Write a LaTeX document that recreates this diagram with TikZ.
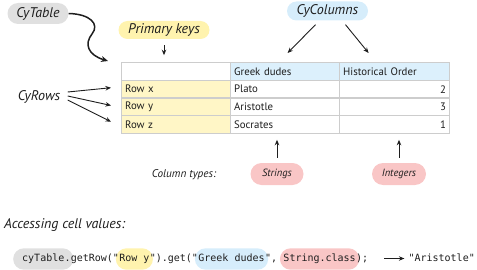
\documentclass[tikz,border=0pt]{standalone}
\usepackage{fontspec}
\setmainfont{PT Sans}
\setmonofont{DejaVu Sans Mono}
\usetikzlibrary{shapes.misc, fit, backgrounds, arrows.meta}
\definecolor{cygray}{HTML}{E0E0E0}
\definecolor{pkyellow}{HTML}{FFF3AE}
\definecolor{keyyellow}{HTML}{FFF6C6}
\definecolor{cyblue}{HTML}{D6EDFB}
\definecolor{hdblue}{HTML}{DCF0FC}
\definecolor{typered}{HTML}{F9C6C6}
\definecolor{gridgray}{HTML}{CDCDCD}
\definecolor{ink}{HTML}{1E1E1E}
\tikzset{
  pill/.style={rounded rectangle, fill=#1, text=ink, inner sep=0pt},
  tag/.style={text=ink, font=\fontsize{14}{16}\selectfont\itshape},
  smalltag/.style={text=ink, font=\fontsize{11.2}{13}\selectfont\itshape},
  cell/.style={rectangle, draw=gridgray, line width=1.2pt, fill=#1, text=ink,
               minimum height=17.75pt, text width=103pt, inner xsep=3.5pt, inner ysep=0pt,
               anchor=north west, align=left, font=\fontsize{10.8}{12}\selectfont},
  code/.style={font=\ttfamily\fontsize{10}{12}\selectfont, text=ink, inner sep=0pt,
               anchor=base west, text height=7.5pt, text depth=2.5pt},
  codepill/.style={rounded rectangle, fill=#1, inner ysep=5.5pt, inner xsep=2pt},
  arr/.style={-{Stealth[length=5.5pt, width=4.5pt]}, line width=0.9pt, draw=ink},
  bigarr/.style={-{Stealth[length=7pt, width=6pt]}, line width=1.5pt, draw=ink},
}
\begin{document}
\begin{tikzpicture}[x=1pt, y=-1pt]
  \useasboundingbox (0,0) rectangle (477,270);
  % labels round the table
  \node[pill=cygray, tag, minimum width=61pt, minimum height=21pt] (cytable) at (38,13.5) {CyTable};
  \node[pill=pkyellow, tag, minimum width=91pt, minimum height=18pt] (pk) at (164,30) {Primary keys};
  \node[pill=cyblue, tag, minimum width=81pt, minimum height=19pt] (cycol) at (327.5,11) {CyColumns};
  \node[tag] (cyrows) at (39,97) {CyRows};

  % the table
  \node[cell=white] (corner) at (121,62) {};
  \node[cell=hdblue] (colG) at (230,62) {Greek dudes};
  \node[cell=hdblue] (colH) at (339,62) {Historical Order};
  \foreach \r/\key/\dude/\ord in {1/Row x/Plato/2, 2/Row y/Aristotle/3, 3/Row z/Socrates/1}{
    \node[cell=keyyellow] (key\r) at (121,{62+17.75*\r}) {\key};
    \node[cell=white] (dude\r) at (230,{62+17.75*\r}) {\dude};
    \node[cell=white, align=right] (ord\r) at (339,{62+17.75*\r}) {\ord};
  }

  % column types
  \node[smalltag] (coltypes) at (184,175) {Column types:};
  \node[pill=typered, smalltag, font=\fontsize{10.5}{12}\selectfont\itshape, minimum width=53pt, minimum height=22pt] (strings) at (277,174) {Strings};
  \node[pill=typered, smalltag, font=\fontsize{10.5}{12}\selectfont\itshape, minimum width=54pt, minimum height=22pt] (integers) at (399,174) {Integers};

  % arrows
  \draw[bigarr] (cytable.east) .. controls (90,14) and (100,24) .. (92,34)
                .. controls (84,44) and (88,55) .. ([xshift=-13pt,yshift=1pt]corner.north west);
  \draw[arr] ([yshift=-6pt]pk.south) -- ([yshift=-16pt]pk.south);
  \draw[arr] ([xshift=-12pt,yshift=-4pt]cycol.south) -- ([xshift=2pt,yshift=9pt]colG.north);
  \draw[arr] ([xshift=18pt,yshift=-4pt]cycol.south) -- ([xshift=-26pt,yshift=9pt]colH.north);
  \draw[arr] ([xshift=4pt,yshift=5pt]cyrows.east) -- ([xshift=-10pt,yshift=1.5pt]key1.west);
  \draw[arr] ([xshift=4pt,yshift=1pt]cyrows.east) -- ([xshift=-10pt,yshift=1.5pt]key2.west);
  \draw[arr] ([xshift=4pt,yshift=-3pt]cyrows.east) -- ([xshift=-10pt,yshift=3pt]key3.west);
  \draw[arr] ([yshift=5pt]strings.north) -- ([yshift=23pt]strings.north);
  \draw[arr] ([yshift=5pt]integers.north) -- ([yshift=23pt]integers.north);

  % accessing cell values
  \node[tag, anchor=west, inner sep=0pt] (access) at (4,225) {Accessing cell values:};
  \node[code] (c1) at (22,261.5) {cyTable};
  \node[code] (c2) at (c1.base east) {.getRow("};
  \node[code] (c3) at (c2.base east) {Row y};
  \node[code] (c4) at (c3.base east) {").get("};
  \node[code] (c5) at (c4.base east) {Greek dudes};
  \node[code] (c6) at (c5.base east) {",\phantom{x}};
  \node[code] (c7) at (c6.base east) {String.class};
  \node[code] (c8) at (c7.base east) {);};
  \node[code] (res) at ([xshift=40pt]c8.base east) {"Aristotle"};
  \draw[arr] ([xshift=16pt,yshift=3pt]c8.base east) -- ([xshift=-4pt,yshift=3pt]res.base west);
  \begin{scope}[on background layer]
    \node[codepill=cygray, inner xsep=7.5pt, fit=(c1)] (c1pill) {};
    \node[codepill=pkyellow, fit=(c3)] (c3pill) {};
    \node[codepill=cyblue, fit=(c5)] (c5pill) {};
    \node[codepill=typered, fit=(c7)] (c7pill) {};
  \end{scope}
\end{tikzpicture}
\end{document}
